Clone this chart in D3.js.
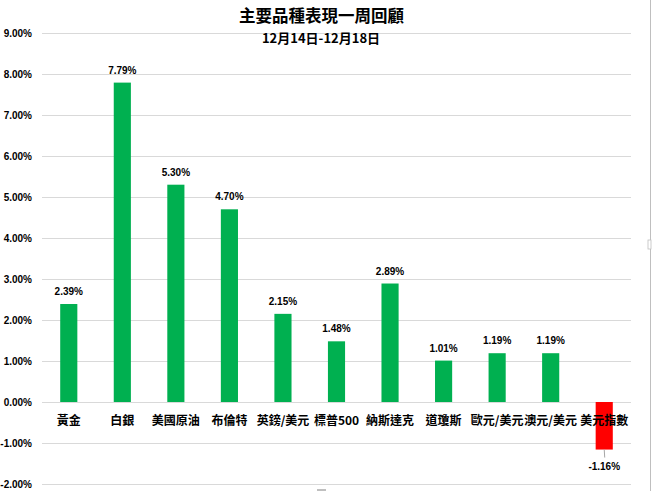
<!DOCTYPE html>
<html>
<head>
<meta charset="utf-8">
<script src="https://cdn.jsdelivr.net/npm/d3@7"></script>
<style>
html,body{margin:0;padding:0;background:#fff;}
svg{display:block;}
</style>
</head>
<body>
<svg id="chart" width="652" height="491"></svg>
<script>
const categories = ["黃金","白銀","美國原油","布倫特","英鎊/美元","標普500","納斯達克","道瓊斯","歐元/美元","澳元/美元","美元指數"];
const values = [2.39, 7.79, 5.30, 4.70, 2.15, 1.48, 2.89, 1.01, 1.19, 1.19, -1.16];
const valueLabels = ["2.39%","7.79%","5.30%","4.70%","2.15%","1.48%","2.89%","1.01%","1.19%","1.19%","-1.16%"];
const yTicks = [9, 8, 7, 6, 5, 4, 3, 2, 1, 0, -1, -2];
const titleText = "主要品種表現一周回顧";
const subtitleText = "12月14日-12月18日";

(function () {
const svg = d3.select("#chart");
const W = 652, H = 491;
const pLeft = 42, pRight = 631, pTop = 33, pBottom = 484;

const cjk = "'Noto Sans CJK TC','Noto Sans CJK SC',sans-serif";
const latin = "'Liberation Sans',Arial,sans-serif";

const x = d3.scaleBand().domain(categories).range([pLeft, pRight]).paddingInner(0.68).paddingOuter(0.34);
const y = d3.scaleLinear().domain([-2, 9]).range([pBottom, pTop]);

svg.append("rect").attr("width", W).attr("height", H).attr("fill", "#fff");

// gridlines
svg.append("g").selectAll("line").data(yTicks).join("line")
  .attr("x1", pLeft).attr("x2", pRight)
  .attr("y1", d => Math.round(y(d)) + 0.5).attr("y2", d => Math.round(y(d)) + 0.5)
  .attr("stroke", "#d9d9d9").attr("stroke-width", 1);

// y axis labels
const yAxis = d3.axisLeft(y).tickValues(yTicks).tickSize(0).tickPadding(0)
  .tickFormat(d => d.toFixed(2) + "%");
const yg = svg.append("g").attr("transform", `translate(${pLeft - 10},0)`).call(yAxis);
yg.select(".domain").remove();
yg.selectAll("text").attr("font-family", latin).attr("font-size", 10).attr("font-weight", "bold").attr("fill", "#000");

// bars
svg.append("g").selectAll("rect").data(values).join("rect")
  .attr("x", (d, i) => x(categories[i]))
  .attr("width", x.bandwidth())
  .attr("y", d => y(Math.max(0, d)))
  .attr("height", d => Math.abs(y(d) - y(0)))
  .attr("fill", d => d >= 0 ? "#00b050" : "#ff0000");

// value labels
const lab = svg.append("g");
values.forEach((d, i) => {
  const cx = x(categories[i]) + x.bandwidth() / 2;
  if (d >= 0) {
    lab.append("text").attr("x", cx).attr("y", y(d) - 9)
      .attr("text-anchor", "middle").attr("font-family", latin)
      .attr("font-size", 10).attr("font-weight", "bold").attr("fill", "#000")
      .text(valueLabels[i]);
  } else {
    lab.append("line").attr("x1", cx).attr("x2", cx + 0.5)
      .attr("y1", y(d)).attr("y2", y(d) + 8)
      .attr("stroke", "#a6a6a6").attr("stroke-width", 1);
    lab.append("text").attr("x", cx).attr("y", y(d) + 20)
      .attr("text-anchor", "middle").attr("font-family", latin)
      .attr("font-size", 10).attr("font-weight", "bold").attr("fill", "#000")
      .text(valueLabels[i]);
  }
});

// category labels
const xAxis = d3.axisBottom(x).tickSize(0).tickPadding(0);
const xg = svg.append("g").attr("transform", `translate(0,${y(0) + 14})`).call(xAxis);
xg.select(".domain").remove();
xg.selectAll("text").attr("font-family", cjk).attr("font-size", 12).attr("font-weight", "bold").attr("fill", "#000");

// titles
svg.append("text").attr("x", 321.5).attr("y", 22).attr("text-anchor", "middle")
  .attr("font-family", cjk).attr("font-size", 16.5).attr("font-weight", "bold").attr("fill", "#000")
  .text(titleText);
svg.append("text").attr("x", 321).attr("y", 43).attr("text-anchor", "middle")
  .attr("font-family", cjk).attr("font-size", 13).attr("font-weight", "bold").attr("fill", "#000")
  .text(subtitleText);

// frame edge and handles
svg.append("line").attr("x1", 650.5).attr("x2", 650.5).attr("y1", 0).attr("y2", H)
  .attr("stroke", "#bfbfbf").attr("stroke-width", 1);
svg.append("rect").attr("x", 648).attr("y", 240).attr("width", 3).attr("height", 9)
  .attr("fill", "#fff").attr("stroke", "#bfbfbf").attr("stroke-width", 0.8);
svg.append("rect").attr("x", 317).attr("y", 489).attr("width", 9).attr("height", 2)
  .attr("fill", "#bfbfbf");
})();
</script>
</body>
</html>
